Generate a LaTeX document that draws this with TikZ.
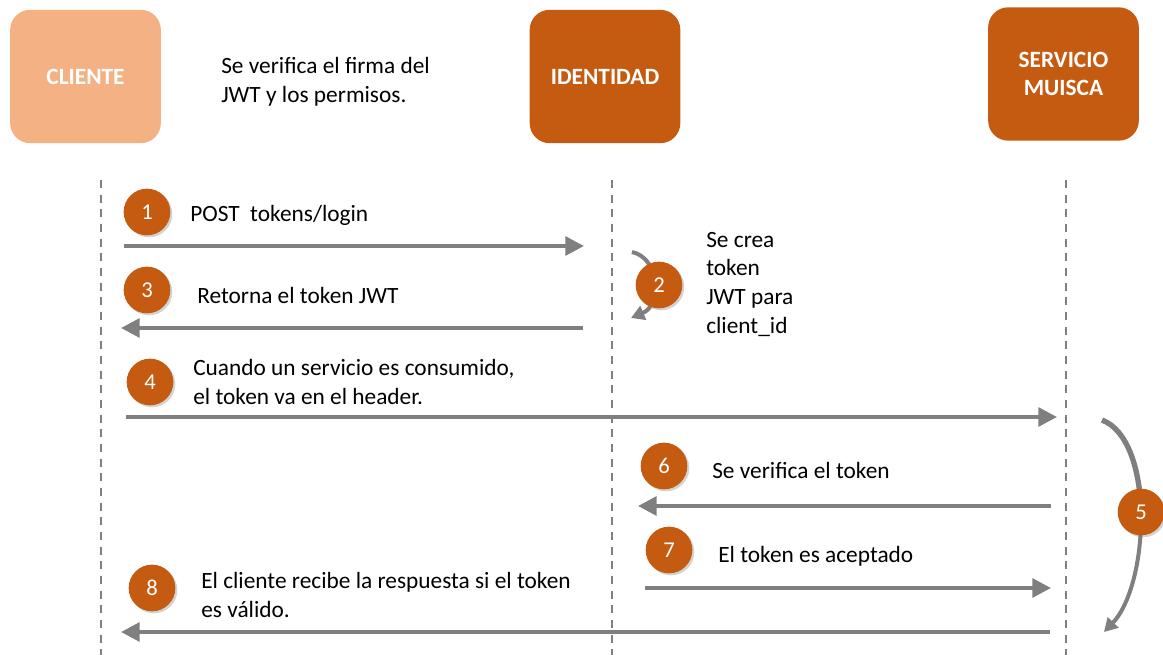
\documentclass[tikz,border=0pt]{standalone}
\usepackage{fontspec}
\setmainfont{Carlito}
\usetikzlibrary{arrows.meta,shadows}
\definecolor{orangeD}{HTML}{C55A11}
\definecolor{orangeL}{HTML}{F4B183}
\definecolor{arrowgray}{HTML}{7F7F7F}
\definecolor{dashgray}{HTML}{808080}
\begin{document}
\begin{tikzpicture}[x=0.75pt,y=-0.75pt,
  actor/.style={rounded corners=15pt, minimum width=113pt, minimum height=100pt, text=white, font=\fontsize{17.5}{21.5}\selectfont\bfseries, align=center, inner sep=0pt},
  lifeline/.style={dashgray, line width=1.2pt, dash pattern=on 6pt off 5pt},
  msg/.style={arrowgray, line width=3pt, -{Triangle[length=14pt,width=14pt]}},
  curv/.style={arrowgray, line width=3pt, -{Triangle[length=10pt,width=11pt]}},
  num/.style={circle, fill=orangeD, minimum size=35pt, inner sep=0pt, text=white, font=\fontsize{17}{20}\selectfont, drop shadow={shadow xshift=1.5pt, shadow yshift=-1.5pt, opacity=0.35}},
  lbl/.style={anchor=west, font=\fontsize{17.5}{21.5}\selectfont, align=left, inner sep=0pt}
]
\useasboundingbox (0,0) rectangle (1163,655);
% actors
\node[actor, fill=orangeL] (cli) at (85.5,76.5) {CLIENTE};
\node[actor, fill=orangeD] (ide) at (605,76.5) {IDENTIDAD};
\node[actor, fill=orangeD] (ser) at (1063.5,74) {SERVICIO\\MUISCA};
\node[lbl] (note) at (221,82) {Se verifica el firma del\\JWT y los permisos.};
% lifelines
\coordinate (c0) at (101,180); \coordinate (c1) at (101,655);
\coordinate (i0) at (612,180); \coordinate (i1) at (612,655);
\coordinate (s0) at (1066,180); \coordinate (s1) at (1066,655);
\draw[lifeline] (c0) -- (c1);
\draw[lifeline] (i0) -- (i1);
\draw[lifeline] (s0) -- (s1);
% message endpoints
\coordinate (a1s) at (124,246); \coordinate (a1e) at (584,246);
\coordinate (a3s) at (583,328); \coordinate (a3e) at (121,328);
\coordinate (a4s) at (126,417); \coordinate (a4e) at (1057,417);
\coordinate (a6s) at (1051,506); \coordinate (a6e) at (638,506);
\coordinate (a7s) at (645,588); \coordinate (a7e) at (1051,588);
\coordinate (a8s) at (1050,632); \coordinate (a8e) at (121,632);
\draw[msg] (a1s) -- (a1e);
\draw[msg] (a3s) -- (a3e);
\draw[msg] (a4s) -- (a4e);
\draw[msg] (a6s) -- (a6e);
\draw[msg] (a7s) -- (a7e);
\draw[msg] (a8s) -- (a8e);
% curved arrows
\coordinate (b2s) at (632,252); \coordinate (b2e) at (631,318);
\draw[curv] (b2s) .. controls (660,258) and (662,305) .. (b2e);
\coordinate (b5s) at (1102,420); \coordinate (b5e) at (1104,632);
\draw[arrowgray, line width=4pt] (b5s) .. controls (1128,430) and (1140,470) .. (1141,512);
\draw[curv] (1141,512) .. controls (1142,560) and (1130,605) .. (b5e);
% number circles
\node[num] (n1) at (147,212) {1};
\node[num] (n2) at (659,285) {2};
\node[num] (n3) at (147,290) {3};
\node[num] (n4) at (150,382) {4};
\node[num] (n5) at (1141,512) {5};
\node[num] (n6) at (664,466) {6};
\node[num] (n7) at (669,550) {7};
\node[num] (n8) at (152,588) {8};
% labels
\node[lbl] (t1) at (190,215) {POST\ \ tokens/login};
\node[lbl] (t2) at (706,284) {Se crea\\token\\JWT para\\client\_id};
\node[lbl] (t3) at (197,295) {Retorna el token JWT};
\node[lbl] (t4) at (193,382) {Cuando un servicio es consumido,\\el token va en el header.};
\node[lbl] (t6) at (712,470) {Se verifica el token};
\node[lbl] (t7) at (718,556) {El token es aceptado};
\node[lbl] (t8) at (201,595) {El cliente recibe la respuesta si el token\\es válido.};
\end{tikzpicture}
\end{document}
